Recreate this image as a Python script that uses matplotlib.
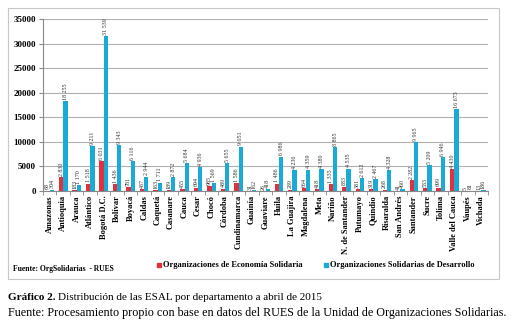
import matplotlib.pyplot as plt
import numpy as np
from matplotlib.patches import Rectangle

departamentos = ['Amazonas', 'Antioquia', 'Arauca', 'Atlántico', 'Bogotá D.C.', 'Bolívar', 'Boyacá',
                 'Caldas', 'Caquetá', 'Casanare', 'Cauca', 'Cesar', 'Chocó', 'Córdoba', 'Cundinamarca',
                 'Guainía', 'Guaviare', 'Huila', 'La Guajira', 'Magdalena', 'Meta', 'Nariño',
                 'N. de Santander', 'Putumayo', 'Quindío', 'Risaralda', 'San Andrés', 'Santander',
                 'Sucre', 'Tolima', 'Valle del Cauca', 'Vaupés', 'Vichada']
economia = [68, 2830, 183, 1518, 6031, 1436, 781, 437, 163, 189, 455, 694, 985, 489, 1586,
            31, 26, 1486, 289, 664, 418, 1335, 883, 381, 319, 268, 41, 2282, 533, 699, 4430, 5, 13]
desarrollo = [304, 18255, 1170, 9211, 31539, 9343, 6116, 2944, 1711, 2872, 5684, 4936, 1569, 5655, 9051,
              162, 418, 6986, 4236, 4359, 4380, 8865, 4535, 2612, 2467, 4328, 460, 9965, 5209, 6946,
              16673, 81, 186]
yticks = [0, 5000, 10000, 15000, 20000, 25000, 30000, 35000]

red = '#e0323c'
blue = '#1aaad6'
serif = 'Liberation Serif'

fig = plt.figure(figsize=(5.15, 3.25), dpi=100)
fig.patches.append(Rectangle((8/515, 1-279/325), 491/515, 271/325, transform=fig.transFigure,
                             fill=False, edgecolor='#c8c8c8', lw=0.8))

ax = fig.add_axes([43/515, 1-191/325, 445/515, 172/325])
x = np.arange(len(departamentos))
w = 0.32
ax.bar(x - w/2, economia, w, color=red, zorder=3)
ax.bar(x + w/2, desarrollo, w, color=blue, zorder=3)

def fmt(v):
    return f'{v:,}'.replace(',', ' ')

for i in x:
    ax.text(i - w/2, economia[i] + 250, fmt(economia[i]), rotation=90, ha='center', va='bottom',
            fontsize=4.3, family=serif, color='#333333')
    ax.text(i + w/2, desarrollo[i] + 250, fmt(desarrollo[i]), rotation=90, ha='center', va='bottom',
            fontsize=4.3, family=serif, color='#333333')

ax.set_xlim(-0.5, len(departamentos) - 0.5)
ax.set_ylim(0, 35000)
ax.set_yticks(yticks)
ax.set_yticklabels([str(t) for t in yticks], fontsize=6.5, family=serif, fontweight='bold')
ax.set_xticks(x)
ax.set_xticklabels(departamentos, rotation=90, fontsize=6, family=serif, fontweight='bold')
ax.set_xticks(np.arange(len(departamentos) + 1) - 0.5, minor=True)
ax.tick_params(axis='x', which='major', length=0, pad=3)
ax.tick_params(axis='x', which='minor', length=3, color='#888888')
ax.tick_params(axis='y', length=3, color='#888888', pad=2)
ax.grid(axis='y', color='#b0b0b0', lw=0.8, zorder=0)
for s in ['top', 'right']:
    ax.spines[s].set_visible(False)
ax.spines['left'].set_color('#888888')
ax.spines['bottom'].set_color('#888888')

# leyenda y fuente dentro del recuadro
fig.text(13/515, 1-269/325, 'Fuente: OrgSolidarias  - RUES', fontsize=5.5, family=serif,
         fontweight='bold', va='center')
fig.patches.append(Rectangle((157/515, 1-267/325), 4/515, 4/325, transform=fig.transFigure, color=red))
fig.text(163/515, 1-265/325, 'Organizaciones de Economía Solidaria', fontsize=6, family=serif,
         fontweight='bold', va='center')
fig.patches.append(Rectangle((324/515, 1-267/325), 4/515, 4/325, transform=fig.transFigure, color=blue))
fig.text(330/515, 1-265/325, 'Organizaciones Solidarias de Desarrollo', fontsize=6, family=serif,
         fontweight='bold', va='center')

# pie de gráfico
t1 = fig.text(8/515, 1-297/325, 'Gráfico 2.', fontsize=8, family=serif, fontweight='bold', va='center')
fig.canvas.draw()
bb = t1.get_window_extent()
fig.text(bb.x1/515 + 2.5/515, 1-297/325, 'Distribución de las ESAL por departamento a abril de 2015',
         fontsize=8, family=serif, va='center')
fig.text(8/515, 1-313/325,
         'Fuente: Procesamiento propio con base en datos del RUES de la Unidad de Organizaciones Solidarias.',
         fontsize=8.7, family=serif, va='center')

fig.savefig('out.png', dpi=100)
